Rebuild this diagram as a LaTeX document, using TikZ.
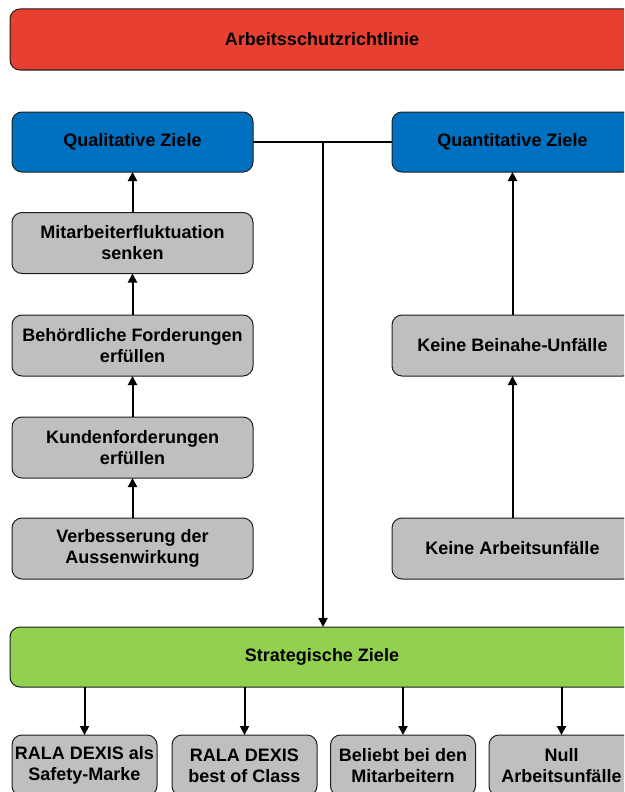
\documentclass[tikz,border=0pt]{standalone}
\usepackage{fontspec}
\setmainfont{Liberation Sans}
\usetikzlibrary{arrows.meta}
\definecolor{cred}{RGB}{232,64,48}
\definecolor{cblue}{RGB}{0,112,192}
\definecolor{cgreen}{RGB}{146,208,80}
\definecolor{cgray}{RGB}{191,191,191}
\definecolor{cedge}{RGB}{30,30,30}
\begin{document}
\begin{tikzpicture}[x=1pt,y=-1pt,
  box/.style={draw=cedge, line width=1pt, rounded corners=10pt, align=center,
    font=\fontsize{18}{21}\selectfont\bfseries, inner sep=0pt, outer sep=0pt},
  redbox/.style={box, fill=cred, minimum width=624pt, minimum height=61pt},
  bluebox/.style={box, fill=cblue, minimum width=241pt, minimum height=60pt},
  graybox/.style={box, fill=cgray, minimum width=241pt, minimum height=61pt},
  greenbox/.style={box, fill=cgreen, minimum width=624pt, minimum height=60pt},
  smallbox/.style={box, fill=cgray, minimum width=145pt, minimum height=61pt},
  conn/.style={line width=2pt, draw=black},
  arr/.style={conn, -{Triangle[length=9pt,width=9pt]}}]
\useasboundingbox (0,0) rectangle (624,792);
\clip (0,0) rectangle (624,792);
\fill[white] (0,0) rectangle (624,792);

\node[redbox] (title) at (322,39.5) {Arbeitsschutzrichtlinie};

\node[bluebox] (qual) at (132.5,142) {Qualitative Ziele};
\node[bluebox] (quant) at (512.5,142) {Quantitative Ziele};

\node[graybox] (mit) at (132.5,243) {Mitarbeiterfluktuation\\senken};
\node[graybox] (beh) at (132.5,345.5) {Behördliche Forderungen\\erfüllen};
\node[graybox] (kund) at (132.5,447.5) {Kundenforderungen\\erfüllen};
\node[graybox] (verb) at (132.5,548.5) {Verbesserung der\\Aussenwirkung};

\node[graybox] (bein) at (512.5,345.5) {Keine Beinahe-Unfälle};
\node[graybox] (arbu) at (512.5,548.5) {Keine Arbeitsunfälle};

\node[greenbox] (strat) at (322,657) {Strategische Ziele};

\node[smallbox] (b1) at (84.5,765.5) {RALA DEXIS als\\Safety-Marke};
\node[smallbox] (b2) at (244.5,765.5) {RALA DEXIS\\best of Class};
\node[smallbox] (b3) at (403,765.5) {Beliebt bei den\\Mitarbeitern};
\node[smallbox] (b4) at (561.5,765.5) {Null\\Arbeitsunfälle};

% left column
\draw[arr] (mit.north) -- (qual.south);
\draw[arr] (beh.north) -- (mit.south);
\draw[arr] (kund.north) -- (beh.south);
\draw[arr] (verb.north) -- (kund.south);

% right column
\draw[arr] (bein.north) -- (quant.south);
\draw[arr] (arbu.north) -- (bein.south);

% link and trunk
\coordinate (j) at (323,142);
\draw[conn] (qual.east) -- (quant.west);
\draw[arr] (j) -- (j |- strat.north);

% strategic outputs
\draw[arr] (strat.south -| b1.north) -- (b1.north);
\draw[arr] (strat.south -| b2.north) -- (b2.north);
\draw[arr] (strat.south -| b3.north) -- (b3.north);
\draw[arr] (strat.south -| b4.north) -- (b4.north);
\end{tikzpicture}
\end{document}
